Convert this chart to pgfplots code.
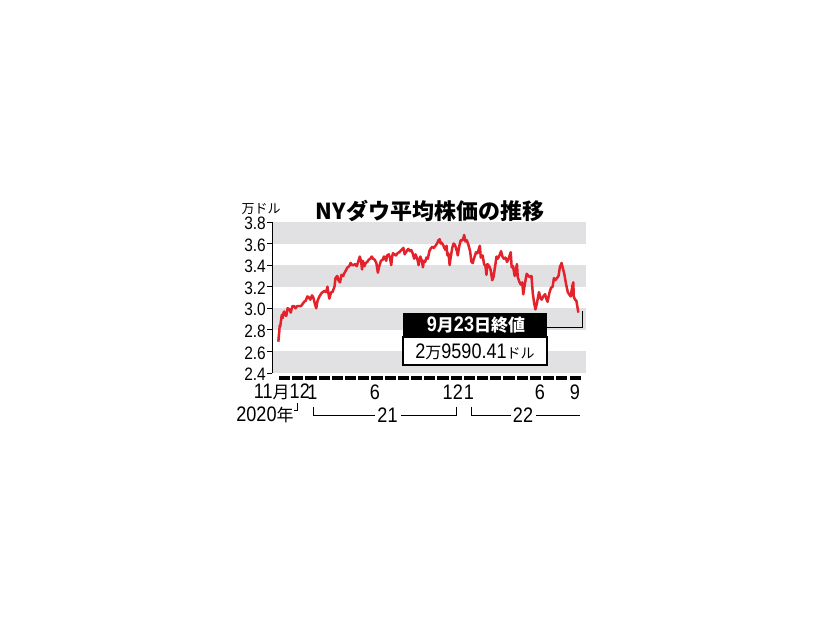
\documentclass[border=0pt]{standalone}
\usepackage{pgfplots}
\pgfplotsset{compat=1.18}
\usepackage{fontspec}
\setmainfont{Liberation Sans}
\newfontfamily\jp{Noto Sans CJK JP}
\newfontfamily\cond{Liberation Sans}[FakeStretch=0.86]
\definecolor{dowred}{HTML}{E3222B}
\definecolor{band}{HTML}{E1E1E3}
\newcommand{\fs}[1]{\fontsize{#1}{#1}\selectfont}
\begin{document}
\begin{tikzpicture}[x=1pt,y=1pt]
\useasboundingbox (0pt,0pt) rectangle (826pt,-620pt);
\begin{axis}[
  at={(272pt,-373pt)}, anchor=south west,
  scale only axis, width=314pt, height=151pt,
  xmin=-0.45, xmax=23.33, ymin=2.4, ymax=3.8,
  axis x line=none, axis y line*=left,
  axis on top, clip=false,
  ytick={2.4,2.6,2.8,3.0,3.2,3.4,3.6,3.8},
  yticklabel={\pgfmathprintnumber[fixed,fixed zerofill,precision=1,assume math mode=true]{\tick}},
  yticklabel style={font=\cond\fs{18}, inner sep=1pt, yshift=-1.5pt},
  tick align=outside, major tick length=5pt,
  tick style={black, line width=0.8pt},
  y axis line style={black, line width=0.8pt},
]
\fill[band] (axis cs:-0.45,3.6) rectangle (axis cs:23.33,3.8);
\fill[band] (axis cs:-0.45,3.2) rectangle (axis cs:23.33,3.4);
\fill[band] (axis cs:-0.45,2.8) rectangle (axis cs:23.33,3.0);
\fill[band] (axis cs:-0.45,2.4) rectangle (axis cs:23.33,2.6);
\pgfplotsinvokeforeach{0,...,22}{
  \addplot[black, line width=3.6pt, forget plot] coordinates {(#1.08,2.355) (#1.92,2.355)};
}
\addplot[dowred, line width=2.5pt, line join=round] table[x=m, y=v] {
m v
0.03 2.69
0.07 2.75
0.10 2.78
0.13 2.84
0.17 2.83
0.27 2.92
0.30 2.94
0.37 2.91
0.40 2.95
0.47 2.97
0.53 2.94
0.63 2.93
0.73 3.00
0.87 2.99
0.97 2.96
1.03 2.99
1.10 3.02
1.23 3.02
1.33 3.00
1.45 3.02
1.55 3.02
1.65 3.02
1.75 3.02
1.98 3.06
2.10 3.07
2.23 3.11
2.35 3.10
2.45 3.08
2.58 3.12
2.68 3.10
2.82 3.03
2.90 3.00
3.00 3.07
3.14 3.11
3.30 3.14
3.39 3.15
3.50 3.16
3.64 3.15
3.75 3.20
3.82 3.14
3.89 3.09
4.03 3.15
4.13 3.15
4.28 3.20
4.36 3.28
4.50 3.30
4.58 3.26
4.70 3.24
4.81 3.31
4.95 3.30
5.00 3.32
5.10 3.34
5.27 3.38
5.40 3.39
5.50 3.42
5.63 3.40
5.73 3.40
5.85 3.41
5.97 3.39
6.10 3.44
6.20 3.48
6.30 3.43
6.37 3.36
6.43 3.44
6.55 3.39
6.65 3.42
6.77 3.43
6.87 3.45
7.00 3.46
7.10 3.48
7.20 3.46
7.33 3.45
7.45 3.42
7.57 3.33
7.67 3.39
7.80 3.44
7.93 3.45
8.03 3.48
8.20 3.44
8.26 3.49
8.40 3.50
8.48 3.47
8.58 3.40
8.65 3.48
8.71 3.51
8.82 3.50
8.94 3.49
9.05 3.51
9.19 3.52
9.35 3.54
9.50 3.56
9.60 3.50
9.65 3.51
9.80 3.54
9.87 3.55
10.00 3.53
10.10 3.54
10.20 3.51
10.32 3.46
10.42 3.50
10.55 3.46
10.65 3.40
10.78 3.48
10.90 3.44
10.98 3.38
11.05 3.44
11.15 3.43
11.24 3.47
11.35 3.46
11.47 3.53
11.60 3.56
11.70 3.57
11.80 3.56
11.93 3.58
12.05 3.60
12.15 3.63
12.25 3.64
12.32 3.60
12.38 3.61
12.50 3.59
12.60 3.56
12.70 3.54
12.77 3.58
12.83 3.49
12.90 3.51
12.97 3.45
13.00 3.40
13.07 3.46
13.20 3.56
13.30 3.60
13.40 3.59
13.53 3.54
13.62 3.49
13.72 3.57
13.84 3.63
13.97 3.63
14.07 3.66
14.10 3.68
14.20 3.62
14.30 3.63
14.42 3.59
14.55 3.53
14.65 3.43
14.75 3.42
14.87 3.47
15.00 3.52
15.11 3.51
15.29 3.58
15.36 3.47
15.50 3.49
15.61 3.41
15.72 3.39
15.79 3.31
15.86 3.41
16.00 3.39
16.10 3.36
16.23 3.26
16.32 3.29
16.45 3.39
16.55 3.48
16.65 3.46
16.77 3.49
16.90 3.53
17.00 3.48
17.10 3.46
17.23 3.47
17.35 3.43
17.43 3.45
17.55 3.49
17.63 3.52
17.70 3.38
17.80 3.39
17.93 3.30
18.10 3.41
18.16 3.29
18.30 3.24
18.39 3.22
18.50 3.24
18.58 3.13
18.65 3.19
18.75 3.26
18.84 3.32
18.97 3.30
19.07 3.29
19.20 3.30
19.30 3.14
19.40 3.05
19.50 2.99
19.60 3.04
19.77 3.15
19.90 3.09
19.97 3.08
20.10 3.11
20.23 3.13
20.35 3.08
20.42 3.06
20.55 3.14
20.68 3.19
20.80 3.20
20.90 3.28
21.00 3.26
21.13 3.28
21.25 3.30
21.35 3.38
21.48 3.42
21.58 3.37
21.70 3.31
21.81 3.23
21.95 3.15
22.05 3.13
22.17 3.11
22.30 3.21
22.37 3.24
22.40 3.11
22.50 3.08
22.60 3.07
22.67 3.02
22.75 2.96
};
\end{axis}
% title and unit
\node at (430pt,-211pt) {\jp\bfseries\fs{22}NYダウ平均株価の推移};
\node at (261pt,-209pt) {\jp\fs{13}万ドル};
% annotation box
\fill[black] (403pt,-313pt) rectangle (547pt,-337pt);
\draw[black, line width=1.1pt, fill=white] (403pt,-337pt) rectangle (547pt,-365pt);
\node[text=white] at (476pt,-325.5pt) {\bfseries\cond\fs{21}9{\jp\fs{17}月}23{\jp\fs{17}日終値}};
\node at (475pt,-352pt) {\cond\fs{21}2{\jp\fs{16}万}9590.41{\jp\fs{14}ドル}};
\draw[black, line width=0.8pt] (547pt,-327pt) -- (582pt,-327pt) -- (582pt,-311pt);
% month labels
\node[anchor=east, inner sep=0pt] at (310pt,-392pt) {\cond\fs{21}11{\jp\fs{17}月}12};
\node[inner sep=0pt] at (312.5pt,-392pt) {\cond\fs{21}1};
\node[inner sep=0pt] at (375pt,-392pt) {\cond\fs{21}6};
\node[anchor=east, inner sep=0pt] at (463pt,-392pt) {\cond\fs{21}12};
\node[inner sep=0pt] at (469pt,-392pt) {\cond\fs{21}1};
\node[inner sep=0pt] at (540pt,-392pt) {\cond\fs{21}6};
\node[inner sep=0pt] at (575pt,-392pt) {\cond\fs{21}9};
% year row
\node[inner sep=0pt] at (265pt,-415pt) {\cond\fs{21}2020{\jp\fs{17}年}};
\draw[line width=0.7pt] (297pt,-403pt) -- (297pt,-410pt) -- (294pt,-410pt);
\draw[line width=0.7pt] (313pt,-407pt) -- (313pt,-415pt) -- (375pt,-415pt);
\node[inner sep=0pt] at (387.5pt,-415pt) {\cond\fs{21}21};
\draw[line width=0.7pt] (401pt,-415pt) -- (456pt,-415pt) -- (456pt,-407pt);
\draw[line width=0.7pt] (471pt,-407pt) -- (471pt,-415pt) -- (511pt,-415pt);
\node[inner sep=0pt] at (523pt,-415pt) {\cond\fs{21}22};
\draw[line width=0.7pt] (536pt,-415pt) -- (580pt,-415pt);
\end{tikzpicture}
\end{document}
